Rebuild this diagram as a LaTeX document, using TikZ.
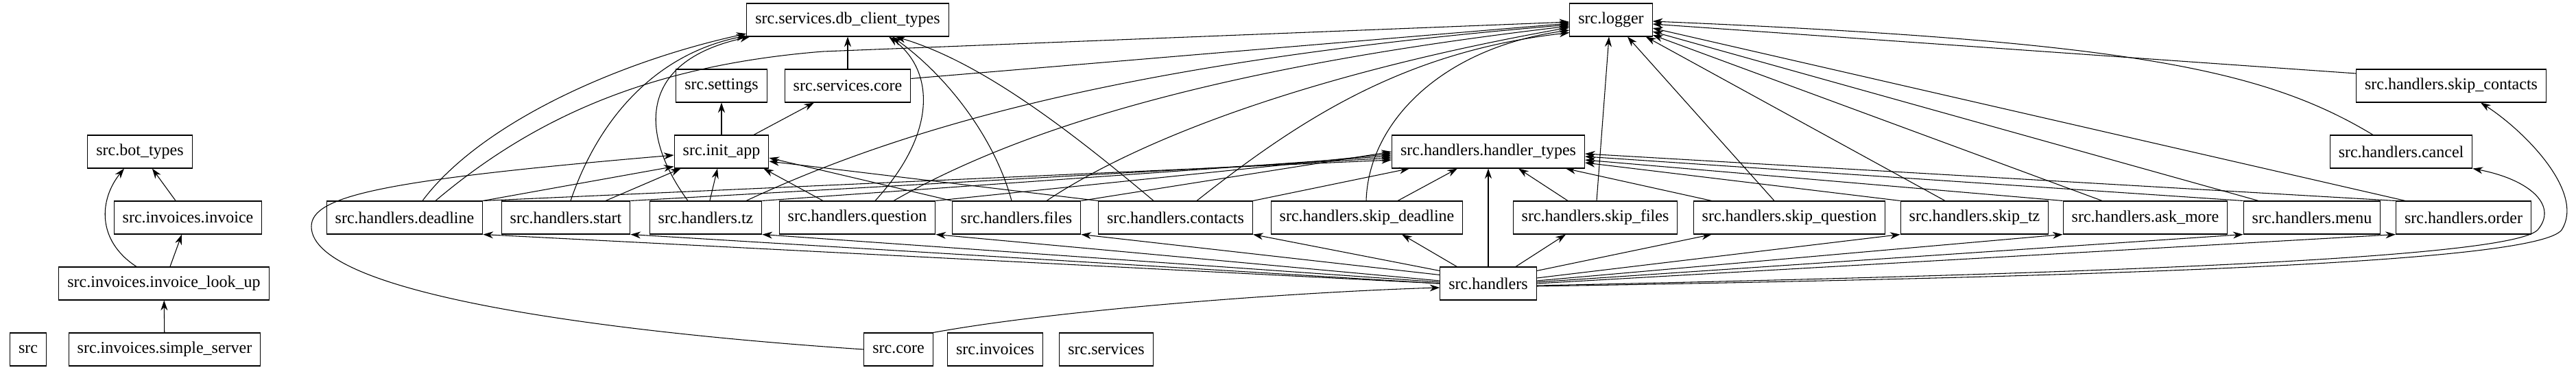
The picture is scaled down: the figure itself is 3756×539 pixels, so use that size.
\documentclass[tikz,border=0pt]{standalone}
\usepackage{fontspec}
\setmainfont{Liberation Serif}
\usepackage{tikz}
\usetikzlibrary{arrows.meta,calc}

\begin{document}
\begin{tikzpicture}[x=0.75pt, y=0.75pt, every node/.style={align=center, font=\fontsize{18pt}{20pt}\selectfont}]
\tikzset{
  modbox/.style={draw=black, line width=0.8pt, inner xsep=9.4pt, inner ysep=2pt, minimum height=36pt},
  dep/.style={-{Stealth[length=11pt, width=7.5pt, inset=3.5pt]}, draw=black, line width=0.8pt}
}
\useasboundingbox (0,0) rectangle (3756,-539);
% row 1
\node[modbox] (db) at (1236,-29) {src.services.db\_client\_types};
\node[modbox] (logger) at (2349,-29) {src.logger};
% row 2
\node[modbox] (settings) at (1052,-125) {src.settings};
\node[modbox] (svccore) at (1236,-125) {src.services.core};
\node[modbox] (skipcontacts) at (3574,-125) {src.handlers.skip\_contacts};
% row 3
\node[modbox] (bottypes) at (204,-221) {src.bot\_types};
\node[modbox] (initapp) at (1052,-221) {src.init\_app};
\node[modbox] (htypes) at (2170,-221) {src.handlers.handler\_types};
\node[modbox] (cancel) at (3501,-221) {src.handlers.cancel};
% row 4
\node[modbox] (invoice) at (274,-317) {src.invoices.invoice};
\node[modbox] (deadline) at (590,-317) {src.handlers.deadline};
\node[modbox] (start) at (825,-317) {src.handlers.start};
\node[modbox] (tz) at (1029,-317) {src.handlers.tz};
\node[modbox] (question) at (1250,-317) {src.handlers.question};
\node[modbox] (files) at (1482,-317) {src.handlers.files};
\node[modbox] (contacts) at (1714,-317) {src.handlers.contacts};
\node[modbox] (skipdeadline) at (1993,-317) {src.handlers.skip\_deadline};
\node[modbox] (skipfiles) at (2326,-317) {src.handlers.skip\_files};
\node[modbox] (skipquestion) at (2609,-317) {src.handlers.skip\_question};
\node[modbox] (skiptz) at (2879,-317) {src.handlers.skip\_tz};
\node[modbox] (askmore) at (3128,-317) {src.handlers.ask\_more};
\node[modbox] (menu) at (3371,-317) {src.handlers.menu};
\node[modbox] (order) at (3592,-317) {src.handlers.order};
% row 5
\node[modbox] (lookup) at (239,-413) {src.invoices.invoice\_look\_up};
\node[modbox] (handlers) at (2170,-413) {src.handlers};
% row 6
\node[modbox] (src) at (41,-509) {src};
\node[modbox] (simpleserver) at (240,-509) {src.invoices.simple\_server};
\node[modbox] (core) at (1310,-509) {src.core};
\node[modbox] (invoices) at (1451,-509) {src.invoices};
\node[modbox] (services) at (1613,-509) {src.services};

% invoices
\draw[dep] (invoice) -- (bottypes);
\draw[dep] ($(lookup.north)+(-40,0)$) .. controls (140,-350) and (145,-290) .. ($(bottypes.south)+(-23,0)$);
\draw[dep] (lookup) -- (invoice);
\draw[dep] (simpleserver) -- (lookup);

% init_app and services
\draw[dep] (initapp) -- (settings);
\draw[dep] ($(initapp.north)+(47,0)$) -- ($(svccore.south)+(-49,0)$);
\draw[dep] (svccore) -- (db);
\draw[dep] ($(svccore.north east)+(0,-14)$) -- ($(logger.west)+(0,-5)$);

% core
\draw[dep] (core.north east) .. controls (1550,-450) and (1900,-425) .. ($(handlers.west)+(0,-6)$);
\draw[dep] (core.west) .. controls (900,-485) and (454,-430) .. (454,-330) .. controls (454,-285) and (560,-262) .. ($(initapp.west)+(0,-5)$);

% deadline
\draw[dep] ($(deadline.north)+(26,0)$) .. controls (700,-180) and (900,-90) .. ($(db.west)+(0,-20)$);
\draw[dep] ($(deadline.north)+(45,0)$) .. controls (780,-170) and (950,-95) .. (1200,-75) -- ($(logger.west)+(0,-3)$);
\draw[dep] (deadline.north east) -- ($(initapp.south west)+(0,3)$);
\draw[dep] (deadline.north east) -- ($(htypes.west)+(0,-12)$);

% start
\draw[dep] ($(start.north)+(7,0)$) .. controls (870,-180) and (950,-80) .. ($(db.west)+(0,-23)$);
\draw[dep] ($(start.north)+(58,0)$) -- ($(initapp.south west)+(10,0)$);
\draw[dep] (start.north east) -- ($(htypes.west)+(0,-9)$);

% tz
\draw[dep] ($(tz.north)+(-26,0)$) .. controls (935,-200) and (925,-90) .. ($(db.south west)+(5,0)$);
\draw[dep] (tz) -- (initapp);
\draw[dep] ($(tz.north)+(59,0)$) .. controls (1350,-170) and (1700,-85) .. ($(logger.west)+(0,-7)$);
\draw[dep] (tz.north east) -- ($(htypes.west)+(0,-6)$);

% question
\draw[dep] ($(question.north)+(-50,0)$) -- ($(initapp.south east)+(-8,0)$);
\draw[dep] ($(question.north)+(26,0)$) .. controls (1370,-190) and (1360,-100) .. ($(db.south)+(60,0)$);
\draw[dep] ($(question.north)+(53,0)$) .. controls (1500,-180) and (1800,-95) .. ($(logger.west)+(0,-9)$);
\draw[dep] (question.north east) -- ($(htypes.west)+(0,-3)$);

% files
\draw[dep] (files.north west) -- ($(initapp.east)+(0,-9)$);
\draw[dep] ($(files.north)+(-7,0)$) .. controls (1450,-200) and (1380,-110) .. ($(db.south)+(65,0)$);
\draw[dep] ($(files.north)+(44,0)$) .. controls (1680,-190) and (1950,-100) .. ($(logger.west)+(0,-11)$);
\draw[dep] (files.north east) -- (htypes.west);

% contacts
\draw[dep] (contacts.north west) -- ($(initapp.east)+(0,-14)$);
\draw[dep] ($(contacts.north)+(-32,0)$) .. controls (1560,-190) and (1430,-90) .. ($(db.south)+(70,0)$);
\draw[dep] ($(contacts.north)+(31,0)$) .. controls (1900,-170) and (2050,-75) .. ($(logger.south west)+(0,6)$);
\draw[dep] (contacts.north east) -- ($(htypes.south west)+(26,0)$);

% skip_deadline
\draw[dep] ($(skipdeadline.north)+(-1,0)$) .. controls (1995,-180) and (2100,-70) .. ($(logger.west)+(0,-15)$);
\draw[dep] ($(skipdeadline.north)+(45,0)$) -- ($(htypes.south west)+(96,0)$);

% handlers package
\draw[dep] (handlers) -- (htypes);

% skip_files
\draw[dep] ($(skipfiles.north)+(2,0)$) -- ($(logger.south)+(-3,0)$);
\draw[dep] ($(skipfiles.north)+(-40,0)$) -- ($(htypes.south)+(44,0)$);

% skip_question
\draw[dep] ($(skipquestion.north)+(-22,0)$) -- ($(logger.south)+(24,0)$);
\draw[dep] ($(skipquestion.north west)+(27,0)$) -- ($(htypes.south east)+(-28,0)$);

% skip_tz
\draw[dep] ($(skiptz.north)+(-43,0)$) -- ($(logger.south east)+(-10,0)$);
\draw[dep] (skiptz.north west) -- ($(htypes.east)+(0,-16)$);

% ask_more
\draw[dep] ($(askmore.north)+(-63,0)$) -- ($(logger.east)+(0,-22)$);
\draw[dep] (askmore.north west) -- ($(htypes.east)+(0,-12)$);

% menu
\draw[dep] ($(menu.north)+(-78,0)$) -- ($(logger.east)+(0,-17)$);
\draw[dep] (menu.north west) -- ($(htypes.east)+(0,-7)$);

% order
\draw[dep] ($(order.north)+(-85,0)$) -- ($(logger.east)+(0,-12)$);
\draw[dep] (order.north west) -- ($(htypes.east)+(0,-3)$);

% cancel, skip_contacts
\draw[dep] ($(cancel.north)+(-41,0)$) .. controls (3300,-100) and (3100,-60) .. ($(logger.east)+(0,-2)$);
\draw[dep] ($(skipcontacts.west)+(0,18)$) -- ($(logger.east)+(0,-6)$);

% handlers -> modules
\draw[dep] (handlers.west) -- (deadline.south east);
\draw[dep] (handlers.west) -- (start.south east);
\draw[dep] ($(handlers.west)+(0,2)$) -- (tz.south east);
\draw[dep] ($(handlers.west)+(0,4)$) -- (question.south east);
\draw[dep] ($(handlers.north west)+(0,-12)$) -- (files.south east);
\draw[dep] ($(handlers.north west)+(0,-6)$) -- (contacts.south east);
\draw[dep] ($(handlers.north west)+(25,0)$) -- ($(skipdeadline.south)+(51,0)$);
\draw[dep] ($(handlers.north)+(40,0)$) -- ($(skipfiles.south)+(-43,0)$);
\draw[dep] ($(handlers.north east)+(0,-6)$) -- ($(skipquestion.south west)+(27,0)$);
\draw[dep] ($(handlers.east)+(0,8)$) -- (skiptz.south west);
\draw[dep] ($(handlers.east)+(0,4)$) -- (askmore.south west);
\draw[dep] ($(handlers.east)+(0,2)$) -- (menu.south west);
\draw[dep] (handlers.east) -- (order.south west);
\draw[dep] ($(handlers.east)+(0,-3)$) .. controls (3100,-398) and (3660,-375) .. (3700,-335) .. controls (3730,-300) and (3690,-262) .. (cancel.south east);
\draw[dep] ($(handlers.east)+(0,-4)$) .. controls (3150,-402) and (3700,-380) .. (3735,-335) .. controls (3770,-280) and (3680,-190) .. ($(skipcontacts.south)+(43,0)$);
\end{tikzpicture}
\end{document}
